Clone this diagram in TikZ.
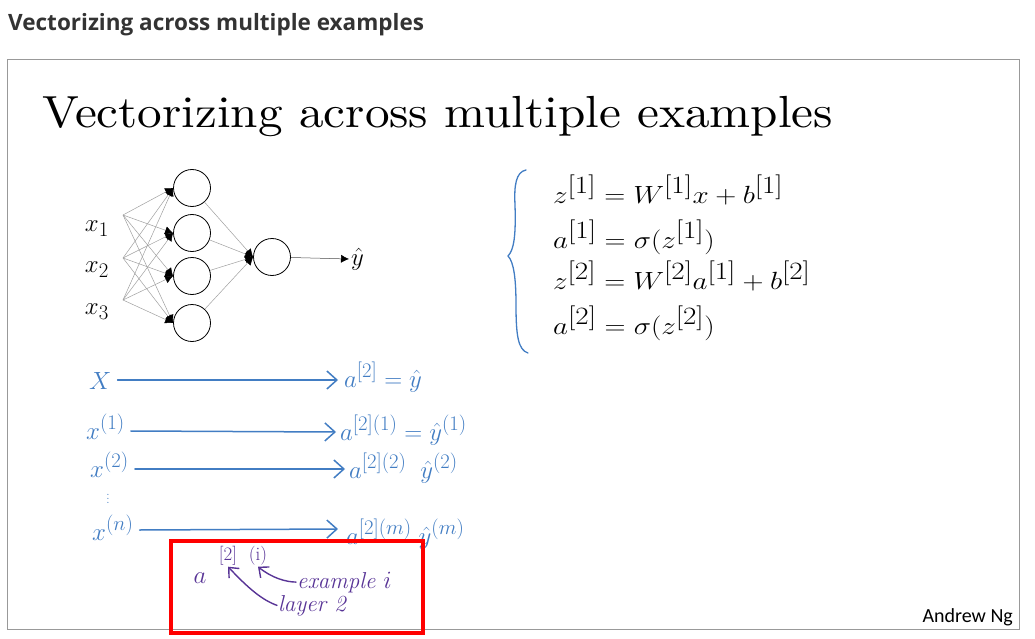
\documentclass[tikz,border=0pt]{standalone}
\usepackage{amsmath,amssymb}
\usepackage{graphicx}
\usepackage{fontspec}
\usepackage{xcolor}
\newfontfamily\pagefont{Open Sans}
\newfontfamily\creditfont{Carlito}
\usetikzlibrary{arrows.meta,positioning}

\definecolor{handblue}{RGB}{66,125,195}
\definecolor{handpurple}{RGB}{88,52,150}
\definecolor{headgray}{RGB}{51,51,51}

\newcommand{\stretchx}[1]{\scalebox{1.17}[1]{#1}}

\begin{document}
\begin{tikzpicture}[x=1pt, y=-1pt,
    neuron/.style={circle, draw, line width=0.8pt, minimum size=37pt, inner sep=0pt},
    synapse/.style={draw=gray!75, line width=0.5pt, -{Latex[length=8pt, width=8pt, color=black]}},
    eqline/.style={anchor=base west, inner sep=0pt, font=\fontsize{37}{40}\selectfont},
    inlabel/.style={anchor=east, inner sep=1pt, font=\fontsize{32}{36}\selectfont},
    hand/.style={text=handblue, inner sep=0pt, font=\fontsize{30}{34}\selectfont},
    handarrow/.style={draw=handblue, line width=1.5pt, line cap=round, -{Straight Barb[length=10pt, width=18pt]}},
    note/.style={text=handpurple, inner sep=1pt, font=\fontsize{23}{26}\selectfont\itshape},
    notearrow/.style={draw=handpurple, line width=1.4pt, line cap=round, -{Straight Barb[length=8pt, width=14pt]}}
]
    \useasboundingbox (0,0) rectangle (1035,639);

    % page heading and slide frame
    \node[anchor=base west, inner sep=0pt, text=headgray, font=\pagefont\bfseries\fontsize{22.5}{26}\selectfont] (head) at (8,31) {Vectorizing across multiple examples};
    \draw[gray!80, line width=1pt] (7,60) rectangle (1019,629);
    \node[anchor=base west, inner sep=0pt, font=\fontsize{10}{12}\selectfont] (title) at (42,128) {\scalebox{4.92}[4.5]{Vectorizing across multiple examples}};

    % network
    \coordinate (in1) at (123,215);
    \coordinate (in2) at (123,258);
    \coordinate (in3) at (123,300);
    \node[inlabel] (x1) at (110,229) {$x_1$};
    \node[inlabel] (x2) at (110,270) {$x_2$};
    \node[inlabel] (x3) at (110,312) {$x_3$};

    \node[neuron] (h1) at (192,188) {};
    \node[neuron] (h2) at (192,233) {};
    \node[neuron] (h3) at (192,276) {};
    \node[neuron] (h4) at (192,323) {};
    \node[neuron] (out) at (272,257) {};
    \node[anchor=west, inner sep=2pt, font=\fontsize{30}{34}\selectfont] (yhat) at (349,259) {$\hat{y}$};

    \foreach \i in {1,2,3}
        \foreach \j in {1,2,3,4}
            \draw[synapse] (in\i) -- (h\j.west);
    \foreach \j in {1,2,3,4}
        \draw[synapse] (h\j) -- (out.west);
    \draw[synapse, draw=black!70] (out) -- (yhat.west);

    % equations
    \node[eqline] (eq1) at (553,203) {\stretchx{$z^{[1]} = W^{[1]}x + b^{[1]}$}};
    \node[eqline] (eq2) at (553,248) {\stretchx{$a^{[1]} = \sigma(z^{[1]})$}};
    \node[eqline] (eq3) at (553,289) {\stretchx{$z^{[2]} = W^{[2]}a^{[1]} + b^{[2]}$}};
    \node[eqline] (eq4) at (553,334) {\stretchx{$a^{[2]} = \sigma(z^{[2]})$}};
    \draw[handblue, line width=1.3pt, line cap=round]
        (526,170) .. controls (516,172) and (514,185) .. (515,205)
        .. controls (516,235) and (514,250) .. (508,256)
        .. controls (514,262) and (516,280) .. (516,305)
        .. controls (516,335) and (518,350) .. (528,353);

    % examples, one per row
    \node[hand, anchor=base west] (xa) at (89,389) {$X$};
    \node[hand, anchor=base west] (ya) at (344,387) {$a^{[2]} = \hat{y}$};
    \node[hand, anchor=base west] (xb) at (86,439) {$x^{(1)}$};
    \node[hand, anchor=base west] (yb) at (340,440) {$a^{[2](1)} = \hat{y}^{(1)}$};
    \node[hand, anchor=base west] (xc) at (90,477) {$x^{(2)}$};
    \node[hand, anchor=base west] (yc) at (349,478) {$a^{[2](2)}\;\;\hat{y}^{(2)}$};
    \node[hand, font=\fontsize{12}{14}\selectfont] (dots) at (108,496) {$\vdots$};
    \node[hand, anchor=base west] (xd) at (92,540) {$x^{(n)}$};
    \node[hand, anchor=base west] (yd) at (346,544) {$a^{[2](m)}\;\hat{y}^{(m)}$};

    \draw[handarrow] ([xshift=6pt, yshift=9pt]xa.base east) -- ([xshift=-6pt, yshift=7pt]ya.base west);
    \draw[handarrow] ([xshift=6pt, yshift=8pt]xb.base east) -- ([xshift=-4pt, yshift=8pt]yb.base west);
    \draw[handarrow] ([xshift=6pt, yshift=8pt]xc.base east) -- ([xshift=-4pt, yshift=9pt]yc.base west);
    \draw[handarrow] ([xshift=6pt, yshift=10pt]xd.base east) -- ([xshift=-8pt, yshift=15pt]yd.base west);

    % highlighted note
    \draw[red, line width=4pt] (171,541) rectangle (423,633);
    \node[note, font=\fontsize{36}{40}\selectfont\itshape] (anote) at (200,578) {$a$};
    \node[note, font=\fontsize{19}{22}\selectfont] (lay2) at (228,556) {[2]};
    \node[note, font=\fontsize{19}{22}\selectfont] (exi) at (258,556) {(i)};
    \node[note, anchor=base west] (extext) at (296,588) {example $i$};
    \node[note, anchor=base west] (laytext) at (277,611) {layer 2};
    \draw[notearrow] (laytext.west) .. controls (262,600) and (248,588) .. (lay2.south);
    \draw[notearrow] (extext.west) .. controls (286,582) and (272,578) .. (exi.south);

    \node[anchor=base east, inner sep=0pt, font=\creditfont\fontsize{20}{24}\selectfont] (credit) at (1013,622) {Andrew Ng};
\end{tikzpicture}
\end{document}
